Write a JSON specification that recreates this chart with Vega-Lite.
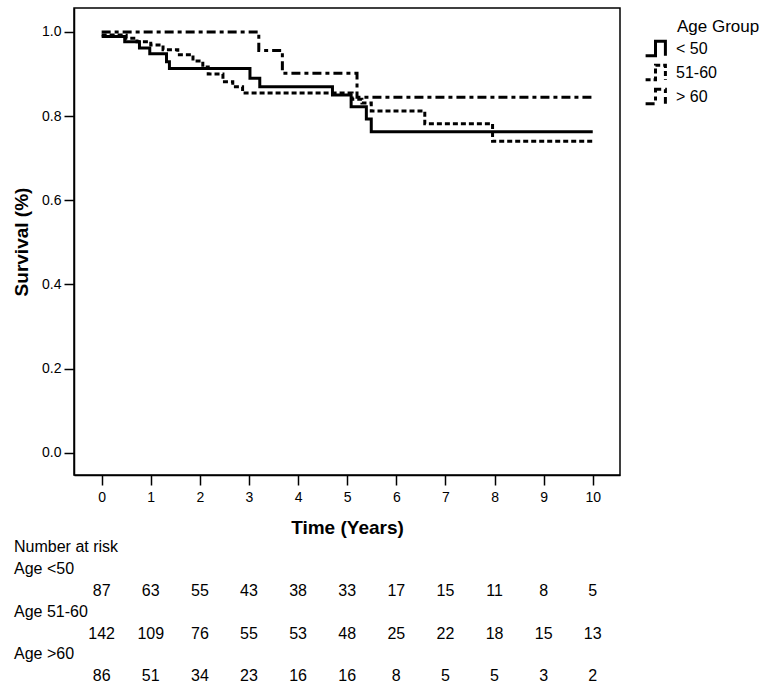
{
  "$schema": "https://vega.github.io/schema/vega-lite/v6.json",
  "width": 546,
  "height": 467,
  "autosize": "none",
  "padding": {"left": 74, "top": 8, "right": 145, "bottom": 216},
  "background": "white",
  "config": {
    "font": "Liberation Sans",
    "view": {"stroke": "black", "strokeWidth": 1.5},
    "axis": {
      "grid": false,
      "domainColor": "black",
      "domainWidth": 1.5,
      "tickColor": "black",
      "tickWidth": 1.5,
      "tickSize": 10,
      "labelColor": "black",
      "labelFontSize": 14,
      "titleColor": "black",
      "titleFontSize": 19,
      "titleFontWeight": "bold"
    },
    "text": {"font": "Liberation Sans", "fontSize": 16, "color": "black"}
  },
  "datasets": {
    "km": [
      {"group": "< 50", "time": 0, "survival": 0.989},
      {"group": "< 50", "time": 0.47, "survival": 0.977},
      {"group": "< 50", "time": 0.77, "survival": 0.962},
      {"group": "< 50", "time": 0.98, "survival": 0.948},
      {"group": "< 50", "time": 1.32, "survival": 0.929},
      {"group": "< 50", "time": 1.38, "survival": 0.913},
      {"group": "< 50", "time": 3.02, "survival": 0.890},
      {"group": "< 50", "time": 3.22, "survival": 0.870},
      {"group": "< 50", "time": 4.7, "survival": 0.850},
      {"group": "< 50", "time": 5.08, "survival": 0.822},
      {"group": "< 50", "time": 5.39, "survival": 0.793},
      {"group": "< 50", "time": 5.49, "survival": 0.763},
      {"group": "< 50", "time": 10, "survival": 0.763},
      {"group": "51-60", "time": 0, "survival": 0.993},
      {"group": "51-60", "time": 0.5, "survival": 0.985},
      {"group": "51-60", "time": 0.72, "survival": 0.977},
      {"group": "51-60", "time": 1.0, "survival": 0.969},
      {"group": "51-60", "time": 1.25, "survival": 0.958},
      {"group": "51-60", "time": 1.55, "survival": 0.946},
      {"group": "51-60", "time": 1.86, "survival": 0.931},
      {"group": "51-60", "time": 2.06, "survival": 0.917},
      {"group": "51-60", "time": 2.17, "survival": 0.900},
      {"group": "51-60", "time": 2.47, "survival": 0.882},
      {"group": "51-60", "time": 2.67, "survival": 0.870},
      {"group": "51-60", "time": 2.87, "survival": 0.855},
      {"group": "51-60", "time": 5.1, "survival": 0.840},
      {"group": "51-60", "time": 5.3, "survival": 0.831},
      {"group": "51-60", "time": 5.49, "survival": 0.812},
      {"group": "51-60", "time": 6.58, "survival": 0.782},
      {"group": "51-60", "time": 7.96, "survival": 0.740},
      {"group": "51-60", "time": 10, "survival": 0.740},
      {"group": "> 60", "time": 0, "survival": 1.0},
      {"group": "> 60", "time": 3.2, "survival": 0.956},
      {"group": "> 60", "time": 3.68, "survival": 0.902},
      {"group": "> 60", "time": 5.2, "survival": 0.845},
      {"group": "> 60", "time": 10, "survival": 0.845}
    ],
    "risk": [
      {"group": "< 50", "year": 0, "n": 87}, {"group": "< 50", "year": 1, "n": 63}, {"group": "< 50", "year": 2, "n": 55},
      {"group": "< 50", "year": 3, "n": 43}, {"group": "< 50", "year": 4, "n": 38}, {"group": "< 50", "year": 5, "n": 33},
      {"group": "< 50", "year": 6, "n": 17}, {"group": "< 50", "year": 7, "n": 15}, {"group": "< 50", "year": 8, "n": 11},
      {"group": "< 50", "year": 9, "n": 8}, {"group": "< 50", "year": 10, "n": 5},
      {"group": "51-60", "year": 0, "n": 142}, {"group": "51-60", "year": 1, "n": 109}, {"group": "51-60", "year": 2, "n": 76},
      {"group": "51-60", "year": 3, "n": 55}, {"group": "51-60", "year": 4, "n": 53}, {"group": "51-60", "year": 5, "n": 48},
      {"group": "51-60", "year": 6, "n": 25}, {"group": "51-60", "year": 7, "n": 22}, {"group": "51-60", "year": 8, "n": 18},
      {"group": "51-60", "year": 9, "n": 15}, {"group": "51-60", "year": 10, "n": 13},
      {"group": "> 60", "year": 0, "n": 86}, {"group": "> 60", "year": 1, "n": 51}, {"group": "> 60", "year": 2, "n": 34},
      {"group": "> 60", "year": 3, "n": 23}, {"group": "> 60", "year": 4, "n": 16}, {"group": "> 60", "year": 5, "n": 16},
      {"group": "> 60", "year": 6, "n": 8}, {"group": "> 60", "year": 7, "n": 5}, {"group": "> 60", "year": 8, "n": 5},
      {"group": "> 60", "year": 9, "n": 3}, {"group": "> 60", "year": 10, "n": 2}
    ],
    "rowlabels": [
      {"group": "< 50", "label": "Age <50"},
      {"group": "51-60", "label": "Age 51-60"},
      {"group": "> 60", "label": "Age >60"}
    ]
  },
  "layer": [
    {
      "data": {"name": "km"},
      "mark": {"type": "line", "interpolate": "step-after", "strokeWidth": 3, "color": "black", "strokeCap": "butt"},
      "encoding": {
        "x": {
          "field": "time", "type": "quantitative",
          "scale": {"domain": [-0.563, 10.555], "nice": false, "zero": false},
          "axis": {"values": [0,1,2,3,4,5,6,7,8,9,10], "title": "Time (Years)", "labelPadding": 5, "titlePadding": 14, "labelFlush": false}
        },
        "y": {
          "field": "survival", "type": "quantitative",
          "scale": {"domain": [-0.053, 1.057], "nice": false, "zero": false},
          "axis": {"values": [0, 0.2, 0.4, 0.6, 0.8, 1.0], "format": ".1f", "title": "Survival (%)", "labelPadding": 3, "titlePadding": 10, "labelFlush": false}
        },
        "strokeDash": {
          "field": "group", "type": "nominal",
          "scale": {"domain": ["< 50", "51-60", "> 60"], "range": [[1, 0], [5, 3], [9, 4, 4, 4]]},
          "legend": {
            "title": "Age Group",
            "orient": "none",
            "legendX": 603,
            "legendY": 11,
            "titleFontSize": 17,
            "titleFontWeight": "normal",
            "titleColor": "black",
            "titlePadding": 2,
            "labelFontSize": 16,
            "labelColor": "black",
            "symbolType": "M -1.1 0.8 L 0 0.8 L 0 -0.8 L 1.1 -0.8 L 1.1 0.8",
            "symbolSize": 324,
            "symbolStrokeWidth": 3,
            "symbolStrokeColor": "black",
            "symbolFillColor": "transparent",
            "symbolOffset": -32,
            "rowPadding": -8.5,
            "labelOffset": 10
          }
        }
      }
    },
    {
      "data": {"name": "risk"},
      "mark": {"type": "text", "fontSize": 16},
      "encoding": {
        "x": {"field": "year", "type": "quantitative"},
        "y": {"field": "group", "type": "nominal", "scale": {"type": "point", "domain": ["< 50", "51-60", "> 60"], "range": [583, 668], "padding": 0}, "axis": null},
        "text": {"field": "n", "type": "quantitative"}
      }
    },
    {
      "data": {"name": "rowlabels"},
      "mark": {"type": "text", "fontSize": 16, "align": "left", "dy": -22},
      "encoding": {
        "x": {"datum": -1.784, "type": "quantitative"},
        "y": {"field": "group", "type": "nominal", "scale": {"type": "point", "domain": ["< 50", "51-60", "> 60"], "range": [583, 668], "padding": 0}, "axis": null},
        "text": {"field": "label", "type": "nominal"}
      }
    },
    {
      "data": {"values": [{"label": "Number at risk", "group": "< 50"}]},
      "mark": {"type": "text", "fontSize": 16, "align": "left", "dy": -44},
      "encoding": {
        "x": {"datum": -1.784, "type": "quantitative"},
        "y": {"field": "group", "type": "nominal", "scale": {"type": "point", "domain": ["< 50", "51-60", "> 60"], "range": [583, 668], "padding": 0}, "axis": null},
        "text": {"field": "label", "type": "nominal"}
      }
    }
  ],
  "resolve": {"scale": {"y": "independent"}}
}
